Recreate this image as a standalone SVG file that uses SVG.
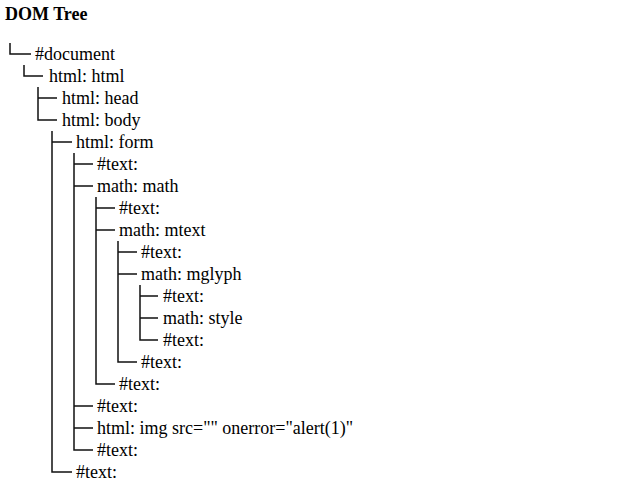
<svg xmlns="http://www.w3.org/2000/svg" width="620" height="501" viewBox="0 0 620 501">
<style>
text{font-family:"Liberation Serif","Times New Roman",serif;font-size:18px;fill:#000}
.title{font-weight:bold}
#connectors path{stroke:#111;stroke-width:1.5;fill:none}
</style>
<rect width="620" height="501" fill="#fff"/>
<text class="title" x="5" y="20">DOM Tree</text>
<g id="connectors">
<path d="M10 43V54H31"/>
<path d="M24 65V76H43"/>
<path d="M38 87V120H57M38 98H57"/>
<path d="M52 131V472H72M52 142H72"/>
<path d="M74 153V450H93M74 164H93M74 186H93M74 406H93M74 428H93"/>
<path d="M96 197V384H115M96 208H115M96 230H115"/>
<path d="M118 241V362H137M118 252H137M118 274H137"/>
<path d="M140 285V340H158M140 296H158M140 318H158"/>
</g>
<g id="n0"><text x="35" y="60">#document</text></g>
<g id="n1"><text x="49" y="82">html: html</text></g>
<g id="n2"><text x="62" y="104">html: head</text></g>
<g id="n3"><text x="62" y="126">html: body</text></g>
<g id="n4"><text x="76" y="148">html: form</text></g>
<g id="n5"><text x="97" y="170">#text:</text></g>
<g id="n6"><text x="97" y="192">math: math</text></g>
<g id="n7"><text x="119" y="214">#text:</text></g>
<g id="n8"><text x="119" y="236">math: mtext</text></g>
<g id="n9"><text x="141" y="258">#text:</text></g>
<g id="n10"><text x="141" y="280">math: mglyph</text></g>
<g id="n11"><text x="163" y="302">#text:</text></g>
<g id="n12"><text x="163" y="324">math: style</text></g>
<g id="n13"><text x="163" y="346">#text:</text></g>
<g id="n14"><text x="141" y="368">#text:</text></g>
<g id="n15"><text x="119" y="390">#text:</text></g>
<g id="n16"><text x="97" y="412">#text:</text></g>
<g id="n17"><text x="97" y="434">html: img src="" onerror="alert(1)"</text></g>
<g id="n18"><text x="97" y="456">#text:</text></g>
<g id="n19"><text x="76" y="478">#text:</text></g>
</svg>
